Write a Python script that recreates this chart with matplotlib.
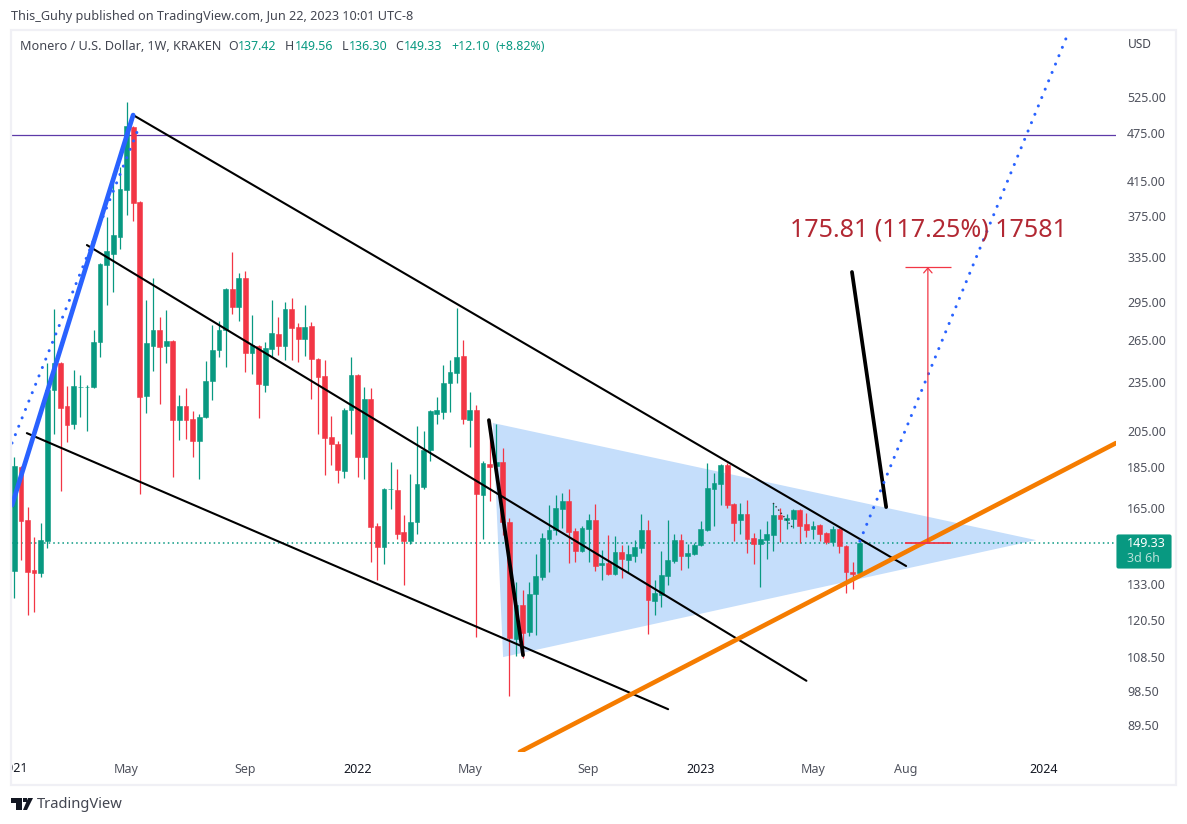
#!/usr/bin/env python3
"""Monero weekly candles with the drawn channel, triangle and projection."""
import numpy as np
import matplotlib
matplotlib.use("Agg")
import matplotlib.pyplot as plt
from matplotlib.patches import FancyBboxPatch, Polygon, Rectangle

plt.rcParams["font.family"] = ["Noto Sans", "DejaVu Sans"]

# weekly bars, one per week from Jan 2021
opens = [138.2, 185.1, 159.4, 138.5, 137.5, 150.4, 230, 248.2, 219.8, 209.0,
         231.7, 231.7, 231.9, 263.3, 327.1, 337.3, 353.9, 403.9, 482.5, 390.6,
         226.1, 260.3, 272.3, 260.3, 264, 211.3, 219.8, 211.9, 199.3, 213.1,
         235.9, 257.4, 272.3, 305.7, 290.6, 315.3, 255.2, 260.3, 233.2, 258.2,
         269.3, 260.3, 289, 274.6, 265.5, 275.4, 251, 239.3, 201.5, 197.6,
         183, 217.4, 239.9, 190.4, 224.2, 156.7, 147.8, 173.9, 173.5, 154.1,
         150.3, 158.5, 175, 194.2, 215, 216.2, 234.6, 241.3, 253.1, 211.3,
         217.4, 171, 186.6, 185.6, 187.7, 158.5, 114.1, 125.5, 116.3, 129.5,
         135.8, 151.1, 155, 164.5, 168.2, 154.6, 146.1, 155.5, 159.4, 140.5,
         141.3, 137, 145.7, 142.5, 144.1, 147.4, 155, 127, 129.1, 136.2,
         142.1, 150.7, 144.1, 144.9, 148.6, 155, 174, 176.5, 186.2, 166.8,
         159.4, 162.1, 151.6, 149, 150.7, 153, 161.7, 159.4, 159.9, 164,
         157.6, 155.5, 157.2, 153.8, 149.9, 155.5, 148.2, 137.7, 137.42]
closes = [185.6, 159.1, 137.9, 137.4, 150.7, 230, 248.2, 218.6, 208.4, 232.6,
          231.9, 231.9, 263.3, 327.9, 340.2, 355.9, 405.1, 483.9, 389.5, 225.5,
          262.5, 272.3, 259.6, 264, 211.3, 219.8, 211.3, 199.3, 213.1, 235.9,
          257.4, 272.3, 305.7, 290.6, 315.3, 255.2, 261.1, 233.9, 258.9, 270,
          260.3, 289, 273.8, 265.5, 274.6, 251, 238.6, 200.9, 197.6, 183.5,
          217.4, 239.9, 190.4, 224.2, 156.3, 147.8, 174, 174.1, 153.4, 150.3,
          158.5, 176.5, 194.2, 216.8, 217.4, 234.6, 242, 252.4, 211.9, 217.4,
          171.6, 187.2, 185.1, 187.7, 158.5, 114.4, 125.5, 116, 129.5, 136.2,
          151.6, 155, 164.9, 168.2, 154.1, 146.1, 155.9, 159.4, 140.1, 141.3,
          137, 145.7, 142.9, 144.9, 147.8, 155, 127.3, 129.9, 136.6, 142.5,
          150.7, 144.1, 145.3, 148.6, 155.5, 174.5, 177, 186.2, 166.3, 158,
          162.1, 151.1, 149, 151.1, 153.4, 161.7, 159.9, 160.3, 164, 156.7,
          155, 156.7, 153.4, 149.9, 155.5, 148.2, 137.7, 137, 149.33]
highs = [190.4, 185.5, 165.4, 152, 158.1, 248.2, 289, 248.9, 232.6, 243.3,
         239.9, 233.2, 272.3, 328.5, 374.4, 423.8, 431, 517.6, 484, 391.5,
         296.4, 315.3, 282.5, 288.2, 264.8, 226.8, 231.3, 216.7, 214.9, 249.6,
         276.2, 279.4, 306.5, 339.3, 319.8, 321.6, 284.1, 261.1, 263.3, 296.4,
         282.5, 294.7, 298, 277.7, 292.3, 278.5, 251.7, 250.3, 213.7, 199.3,
         218.6, 252.4, 240.5, 231.9, 231.3, 158.1, 174.5, 187.7, 184.1, 161.7,
         181.5, 207.8, 204.9, 217.2, 225.5, 246.8, 250.3, 289.8, 264.8, 229,
         220.4, 188.3, 203.8, 209, 195.3, 160.3, 133.9, 130.9, 133.9, 144.9,
         153.7, 166.3, 171, 171.9, 174, 155.9, 156.7, 162.1, 166.8, 146.5,
         153, 152.4, 148.6, 148.6, 150.7, 162.1, 159.4, 134.7, 146.1, 159.4,
         153.4, 153.4, 149, 149.4, 158.9, 187.2, 182, 186.6, 187.2, 167.3,
         167.3, 168.7, 153.7, 155.5, 158.9, 167.3, 164.9, 162.1, 164.5, 164.5,
         162.6, 158.9, 157.6, 154.2, 156.7, 155.9, 148.6, 141.7, 149.56]
lows = [128.1, 142.5, 122.1, 123.2, 135.9, 147.5, 203.1, 173, 198.7, 206,
        213.1, 204.9, 231.3, 252.4, 292.2, 303.1, 342.2, 376.5, 370.2, 171.6,
        215.5, 242.6, 221.1, 248.2, 180, 199.8, 200.3, 190.4, 179, 212.5,
        223.6, 252.4, 245.4, 284.9, 279.4, 242, 240.6, 212.5, 228.7, 252.4,
        253.8, 250.3, 250.3, 248.9, 253.1, 224.2, 203.1, 181, 186.2, 177,
        179.5, 203.1, 180, 179, 141.7, 134.7, 140.9, 164.5, 151.1, 132.7,
        149, 153.4, 174, 188.3, 209, 212, 216.2, 234.6, 209, 195.9,
        114.7, 151.1, 168.2, 185.1, 153, 97.1, 108.7, 108.1, 115, 115.4,
        134.7, 137.7, 153, 155.9, 141.3, 141.7, 145.7, 141.7, 138.1, 134.7,
        136.6, 136.6, 135.4, 137.7, 141.7, 145.3, 115.7, 122, 124.8, 132.7,
        141.3, 138.5, 139.3, 144.5, 148.2, 154.8, 156.7, 166.3, 164.9, 150.3,
        153.4, 145.3, 140.9, 132, 142.9, 146.1, 149.9, 155.5, 155.9, 149.4,
        152, 151.1, 150.3, 149, 148.2, 145.3, 129.9, 131.3, 136.3]

price_ticks = [89.5, 98.5, 108.5, 120.5, 133, 165, 185, 205, 235, 265, 295,
               335, 375, 415, 475, 525]
time_ticks = [17, 35, 52, 69, 87, 104, 121, 135, 156]
time_labels = ["May", "Sep", "2022", "May", "Sep", "2023", "May", "Aug", "2024"]

# drawings as (bar index, price)
channel_top = [(18.0, 499), (135.1, 140.1)]
channel_mid = [(11.0, 346), (120.0, 101.4)]
channel_low = [(1.9, 203.7), (99.05, 93.6)]
drop_line = [(71.9, 211.3), (77.07, 109)]
pointer_line = [(126.9, 320.7), (132.08, 165.4)]
support_line = [(76.6, 83), (166.9, 198.1)]
impulse_line = [(-0.35, 166.3), (18.0, 499)]
impulse_dots = [(-0.35, 198.1), (18.9, 482.5)]
projection_dots = [(128.1, 150.3), (159.6, 626.9)]
small_dots = [(114.95, 167.3), (117.97, 155.9)]
triangle = [(72.5, 209.6), (154.8, 150.7), (74.05, 108.4)]
top_level = 471.7
last_price = 149.33
measure_x = 138.4
measure_lo, measure_hi = 149.3, 325.2
measure_left, measure_right = 134.95, 141.9

GREEN = "#089981"
RED = "#f23645"
BLUE = "#2962ff"
W, H = 1187, 824


def draw(ax, pts, **kw):
    xs, ys = zip(*pts)
    ax.plot(xs, ys, solid_capstyle="round", **kw)


fig = plt.figure(figsize=(W / 100, H / 100), dpi=100)
ax = fig.add_axes([12 / W, 1 - 752 / H, 1104 / W, 722 / H])
ax.set_yscale("log")
ax.set_xlim(-0.35, 166.9)
ax.set_ylim(82.97, 634.1)
for s in ax.spines.values():
    s.set_visible(False)

ax.add_patch(Polygon(triangle, closed=True, fc="#c5defb", ec="none", zorder=1))
ax.axhline(top_level, color="#5e3aa8", lw=0.9, zorder=2)
ax.axhline(last_price, color=GREEN, lw=1.1, ls=(0, (1, 2)), zorder=2)

idx = np.arange(len(opens))
o, c = np.array(opens), np.array(closes)
cols = [GREEN if b >= a else RED for a, b in zip(opens, closes)]
ax.vlines(idx, lows, highs, colors=cols, lw=0.9, zorder=3)
ax.bar(idx, np.abs(c - o), bottom=np.minimum(o, c), width=0.72, color=cols,
       edgecolor=cols, linewidth=0.4, zorder=3)

# trend lines
draw(ax, channel_top, color="black", lw=1.5, zorder=4)
draw(ax, channel_mid, color="black", lw=1.5, zorder=4)
draw(ax, channel_low, color="black", lw=1.5, zorder=4)
draw(ax, drop_line, color="black", lw=2.7, zorder=4)
draw(ax, pointer_line, color="black", lw=2.7, zorder=4)
draw(ax, support_line, color="#f57c00", lw=3.3, zorder=4)
draw(ax, impulse_line, color=BLUE, lw=3.4, zorder=4)
dots = dict(color=BLUE, lw=2.2, ls=(0, (0.01, 2.95)), dash_capstyle="round", zorder=4)
ax.plot(*zip(*impulse_dots), **dots)
ax.plot(*zip(*projection_dots), **dots)
ax.plot(*zip(*small_dots), color="#333333", lw=1, ls=(0, (1, 2)), zorder=4)

# measure tool
ax.hlines(measure_lo, measure_left, measure_right, color=RED, lw=1.3, zorder=5)
ax.hlines(measure_hi, measure_left, measure_right, color=RED, lw=0.9, zorder=5)
ax.annotate("", xy=(measure_x, measure_hi), xytext=(measure_x, measure_lo), zorder=5,
            arrowprops=dict(arrowstyle="->,head_length=0.35,head_width=0.3", color=RED,
                            lw=0.9, shrinkA=0, shrinkB=0))

ax.yaxis.tick_right()
ax.set_yticks(price_ticks, [f"{p:.2f}" for p in price_ticks])
ax.minorticks_off()
ax.tick_params(axis="y", length=0, pad=8, labelsize=9, labelcolor="#50535e")
ax.set_xticks(time_ticks, time_labels)
ax.tick_params(axis="x", length=0, pad=8, labelsize=9, labelcolor="#50535e")
for lab in ax.get_xticklabels():
    if lab.get_text().isdigit():
        lab.set_color("#131722")
        lab.set_fontweight("bold")

# page furniture drawn in pixel coordinates
ov = fig.add_axes([0, 0, 1, 1], facecolor="none")
ov.set_xlim(0, W)
ov.set_ylim(H, 0)
ov.axis("off")
ov.add_patch(Rectangle((11, 29.5), 1165, 755, fc="none", ec="#f0f0f5", lw=1.6))

ov.text(11, 16, "This_Guhy published on TradingView.com, Jun 22, 2023 10:01 UTC-8",
        fontsize=9.1, color="#434651", va="center")
ov.text(20, 46, "Monero / U.S. Dollar, 1W, KRAKEN", fontsize=9.1, color="#434651", va="center")
for x, s, col in [(228, "O", "#434651"), (238, "137.42", GREEN), (285, "H", "#434651"),
                  (295, "149.56", GREEN), (342, "L", "#434651"), (349, "136.30", GREEN),
                  (395, "C", "#434651"), (404, "149.33", GREEN), (451, "+12.10", GREEN),
                  (495, "(+8.82%)", GREEN)]:
    ov.text(x, 46, s, fontsize=8.9, color=col, va="center")
ov.text(1128, 44, "USD", fontsize=8.6, color="#434651", va="center")

ov.text(928, 229.5, "175.81 (117.25%) 17581", fontsize=18, color="#b22833",
        ha="center", va="center")

# clipped first year label at the left edge of the pane
first = ov.text(14, 769, "2021", fontsize=9, fontweight="bold", color="#131722",
                ha="center", va="center")
first.set_clip_path(Rectangle((12, 755), 60, 28, transform=ov.transData))
first.set_clip_on(True)

# last price tag
ov.add_patch(FancyBboxPatch((1117, 535), 54, 33, boxstyle="round,pad=0,rounding_size=1.5",
                            fc=GREEN, ec=GREEN, lw=0.8))
ov.text(1127, 543.5, "149.33", fontsize=9, color="white", fontweight="bold", va="center")
ov.text(1127, 559, "3d 6h", fontsize=9, color="#b5e0d8", va="center")

# logo and wordmark
ov.add_patch(Polygon([(11, 798), (22, 798), (22, 810), (16, 810), (16, 803), (11, 803)],
                     fc="#131722", ec="none"))
ov.add_patch(Polygon([(27, 810), (23, 810), (28, 798), (33, 798)], fc="#131722", ec="none"))
ov.add_patch(Rectangle((23, 798), 3.5, 4, fc="#131722", ec="none"))
ov.text(37, 805, "TradingView", fontsize=10.6, color="#434651", va="center")

fig.savefig("out.png", dpi=100)
